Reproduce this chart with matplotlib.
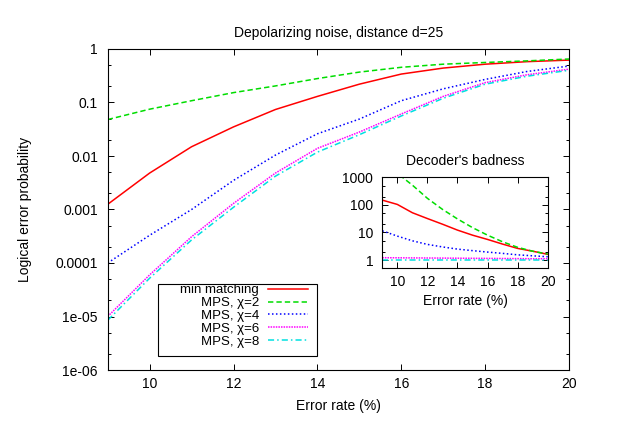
import numpy as np
import matplotlib
matplotlib.use("Agg")
import matplotlib.pyplot as plt
from matplotlib.ticker import FixedLocator, FixedFormatter, LogLocator, NullFormatter, NullLocator
from matplotlib.patches import Rectangle

plt.rcParams['font.family'] = ['Liberation Sans', 'DejaVu Sans']
plt.rcParams['font.size'] = 10

# Error rate (%)
p = [9, 10, 11, 12, 13, 14, 15, 16, 17, 18, 19, 20]

# Logical error probability, distance d=25
min_matching = [0.00125, 0.0048, 0.0149, 0.035, 0.074, 0.13, 0.22, 0.34, 0.44, 0.52, 0.58, 0.62]
mps_chi2 = [0.048, 0.075, 0.108, 0.153, 0.204, 0.28, 0.37, 0.455, 0.52, 0.56, 0.60, 0.65]
mps_chi4 = [1.0e-4, 3.3e-4, 1.0e-3, 0.0035, 0.0104, 0.026, 0.049, 0.108, 0.18, 0.27, 0.38, 0.48]
mps_chi6 = [1.0e-5, 6.0e-5, 3.1e-4, 0.0013, 0.0048, 0.0139, 0.028, 0.061, 0.13, 0.235, 0.33, 0.42]
mps_chi8 = [0.85e-5, 5.2e-5, 2.7e-4, 0.0011, 0.0042, 0.0118, 0.025, 0.056, 0.12, 0.22, 0.31, 0.40]

# Decoder's badness (inset)
bad_min_matching = [149, 104, 52, 32, 20, 12.2, 8.0, 5.6, 3.8, 2.65, 2.1, 1.62]
bad_chi2 = [5600, 1400, 520, 173, 69, 31, 15, 8.0, 4.6, 2.9, 2.1, 1.65]
bad_chi4 = [11.5, 7.4, 5.0, 3.7, 3.0, 2.5, 2.2, 1.95, 1.75, 1.55, 1.43, 1.32]
bad_chi6 = [1.22, 1.21, 1.2, 1.19, 1.18, 1.17, 1.16, 1.15, 1.14, 1.13, 1.12, 1.12]
bad_chi8 = [1.0, 1.0, 1.0, 1.0, 1.0, 1.0, 1.0, 1.0, 1.0, 1.0, 1.0, 1.0]

labels = ["min matching", "MPS, \u03c7=2", "MPS, \u03c7=4", "MPS, \u03c7=6", "MPS, \u03c7=8"]

x_ticks = [10, 12, 14, 16, 18, 20]
y_ticks = [1e-6, 1e-5, 1e-4, 1e-3, 1e-2, 1e-1, 1]
y_ticklabels = ["1e-06", "1e-05", "0.0001", "0.001", "0.01", "0.1", "1"]
inset_y_ticks = [1, 10, 100, 1000]
inset_y_ticklabels = ["1", "10", "100", "1000"]

series = [min_matching, mps_chi2, mps_chi4, mps_chi6, mps_chi8]
badness = [bad_min_matching, bad_chi2, bad_chi4, bad_chi6, bad_chi8]
colors = ['#ff0000', '#00dd00', '#0000ff', '#ff00ff', '#00e0e0']
styles = ['-', (0, (3.5, 2)), (0, (1, 1.6)), (0, (1, 0.7)), (0, (4, 2, 1, 2))]

W, H = 624, 436
fig = plt.figure(figsize=(W / 100, H / 100), dpi=100)


def frac(x0, y0, x1, y1):
    # pixel box (top-left, bottom-right) -> figure fraction rect
    return [x0 / W, 1 - y1 / H, (x1 - x0) / W, (y1 - y0) / H]


def style_axes(a, yt, ytl, pad_y):
    a.set_yscale('log')
    a.xaxis.set_major_locator(FixedLocator(x_ticks))
    a.xaxis.set_minor_locator(NullLocator())
    a.yaxis.set_major_locator(FixedLocator(yt))
    a.yaxis.set_major_formatter(FixedFormatter(ytl))
    a.yaxis.set_minor_locator(LogLocator(base=10, subs=(2.0, 5.0), numticks=20))
    a.yaxis.set_minor_formatter(NullFormatter())
    a.tick_params(which='both', direction='in', top=True, right=True, width=0.7, colors='black')
    a.tick_params(which='major', length=4.3)
    a.tick_params(which='minor', length=2.2)
    a.tick_params(axis='x', pad=5)
    a.tick_params(axis='y', pad=pad_y)
    for s in a.spines.values():
        s.set_linewidth(0.8)


ax = fig.add_axes(frac(107.7, 49, 569, 370))
handles = []
for y, c, ls, lab in zip(series, colors, styles, labels):
    h, = ax.plot(p, y, color=c, linestyle=ls, lw=1.1, label=lab)
    handles.append(h)
ax.set_xlim(9, 20)
ax.set_ylim(1e-6, 1)
style_axes(ax, y_ticks, y_ticklabels, 7)
ax.set_title("Depolarizing noise, distance d=25", fontsize=10, pad=9)
ax.set_xlabel("Error rate (%)", labelpad=6)
ax.set_ylabel("Logical error probability")
ax.yaxis.set_label_coords(-0.164, 0.5)

# legend: labels right-aligned against the line samples, separate frame
leg = ax.legend(handles=handles, loc='upper right', bbox_to_anchor=(308 / W, 1 - 284 / H),
                bbox_transform=fig.transFigure, frameon=False, borderpad=0, borderaxespad=0,
                fontsize=9.5, handlelength=3.0, handletextpad=0.7, labelspacing=0.05,
                markerfirst=False)
fig.add_artist(Rectangle((158.3 / W, 1 - 356 / H), (316.7 - 158.3) / W, 72 / H,
                         transform=fig.transFigure, fill=False, ec='black', lw=0.8))

# inset: decoder's badness
ins = fig.add_axes(frac(382.3, 177.3, 547.7, 267.7))
for y, c, ls in zip(badness, colors, styles):
    ins.plot(p, y, color=c, linestyle=ls, lw=1.1)
ins.set_xlim(9, 20)
ins.set_ylim(0.53, 1000)
style_axes(ins, inset_y_ticks, inset_y_ticklabels, 6.5)
ins.set_title("Decoder's badness", fontsize=10, pad=9)
ins.set_xlabel("Error rate (%)", labelpad=4)

fig.savefig("out.png", dpi=100)
